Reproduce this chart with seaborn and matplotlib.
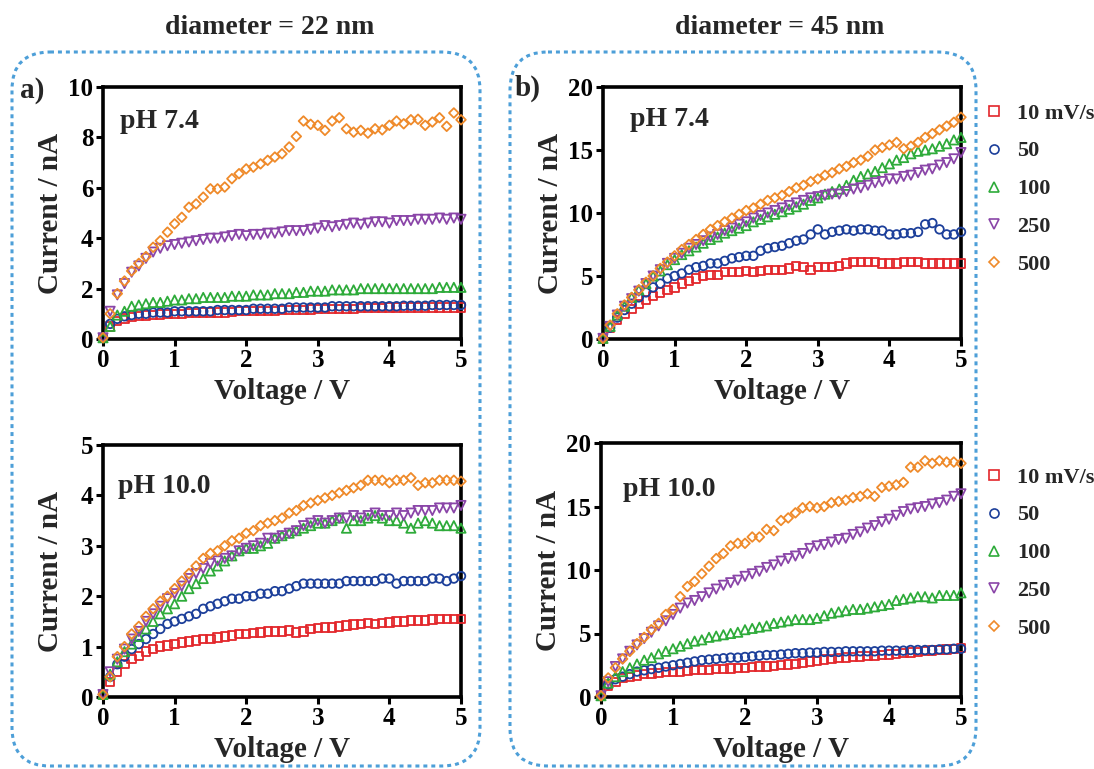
import numpy as np
import pandas as pd
import matplotlib
matplotlib.use("Agg")
import matplotlib.pyplot as plt
import seaborn as sns
from matplotlib.patches import FancyBboxPatch
from matplotlib.lines import Line2D

# ---------------------------------------------------------------- data
voltage = np.linspace(0.0, 5.0, 51)  # V, sweep sampled every 0.1 V

rate_labels = ["10 mV/s", "50", "100", "250", "500"]

# diameter 22 nm, pH 7.4  (current in nA)
d22_ph74_r10 = [0.05, 0.50, 0.72, 0.82, 0.88, 0.90, 0.93, 0.95, 0.97, 1.00,
                1.00, 1.00, 1.02, 1.02, 1.05, 1.05, 1.05, 1.05, 1.08, 1.10,
                1.10, 1.10, 1.10, 1.12, 1.12, 1.15, 1.15, 1.15, 1.15, 1.17,
                1.18, 1.18, 1.20, 1.20, 1.20, 1.20, 1.22, 1.22, 1.22, 1.22,
                1.25, 1.25, 1.25, 1.25, 1.25, 1.25, 1.25, 1.25, 1.25, 1.25,
                1.25]
d22_ph74_r50 = [0.05, 0.60, 0.80, 0.90, 0.95, 1.00, 1.00, 1.05, 1.05, 1.05,
                1.10, 1.10, 1.10, 1.10, 1.10, 1.10, 1.15, 1.15, 1.15, 1.15,
                1.15, 1.20, 1.20, 1.20, 1.20, 1.20, 1.25, 1.25, 1.25, 1.25,
                1.25, 1.25, 1.30, 1.30, 1.30, 1.30, 1.30, 1.30, 1.30, 1.30,
                1.30, 1.30, 1.32, 1.32, 1.32, 1.32, 1.35, 1.35, 1.35, 1.35,
                1.35]
d22_ph74_r100 = [0.05, 0.50, 0.95, 1.10, 1.30, 1.35, 1.40, 1.45, 1.45, 1.50,
                 1.55, 1.55, 1.60, 1.60, 1.65, 1.65, 1.65, 1.65, 1.70, 1.70,
                 1.70, 1.75, 1.75, 1.75, 1.80, 1.80, 1.80, 1.85, 1.85, 1.90,
                 1.90, 1.90, 1.95, 1.95, 1.95, 1.95, 2.00, 2.00, 2.00, 2.00,
                 2.00, 2.00, 2.00, 2.00, 2.00, 2.00, 2.00, 2.05, 2.05, 2.05,
                 2.05]
d22_ph74_r250 = [0.05, 1.10, 1.75, 2.20, 2.65, 2.90, 3.20, 3.45, 3.60, 3.70,
                 3.75, 3.80, 3.85, 3.90, 3.95, 4.00, 4.00, 4.05, 4.10, 4.15,
                 4.10, 4.15, 4.15, 4.20, 4.20, 4.25, 4.30, 4.30, 4.30, 4.35,
                 4.40, 4.50, 4.45, 4.50, 4.55, 4.60, 4.55, 4.60, 4.65, 4.65,
                 4.60, 4.70, 4.70, 4.70, 4.75, 4.75, 4.75, 4.80, 4.75, 4.80,
                 4.75]
d22_ph74_r500 = [0.05, 1.00, 1.80, 2.30, 2.70, 3.00, 3.27, 3.64, 3.90, 4.24,
                 4.57, 4.83, 5.23, 5.36, 5.63, 5.96, 5.96, 6.03, 6.36, 6.56,
                 6.75, 6.82, 6.95, 7.09, 7.22, 7.35, 7.62, 8.04, 8.65, 8.52,
                 8.48, 8.28, 8.65, 8.78, 8.34, 8.21, 8.28, 8.17, 8.34, 8.30,
                 8.48, 8.65, 8.54, 8.70, 8.72, 8.48, 8.61, 8.78, 8.44, 8.97,
                 8.70]

# diameter 45 nm, pH 7.4
d45_ph74_r10 = [0.05, 0.9, 1.5, 2.0, 2.4, 2.8, 3.1, 3.4, 3.7, 3.9,
                4.1, 4.4, 4.6, 4.8, 5.0, 5.1, 5.1, 5.3, 5.3, 5.3,
                5.4, 5.3, 5.4, 5.5, 5.5, 5.5, 5.6, 5.8, 5.7, 5.5,
                5.7, 5.7, 5.7, 5.8, 6.0, 6.1, 6.1, 6.1, 6.1, 6.0,
                6.0, 6.0, 6.1, 6.1, 6.1, 6.0, 6.0, 6.0, 6.0, 6.0,
                6.0]
d45_ph74_r50 = [0.05, 0.9, 1.7, 2.3, 2.8, 3.3, 3.7, 4.1, 4.4, 4.8,
                5.0, 5.2, 5.5, 5.7, 5.8, 6.0, 6.0, 6.2, 6.4, 6.5,
                6.6, 6.6, 7.0, 7.2, 7.3, 7.4, 7.6, 7.8, 7.9, 8.3,
                8.7, 8.3, 8.5, 8.6, 8.7, 8.6, 8.7, 8.7, 8.6, 8.6,
                8.3, 8.3, 8.4, 8.4, 8.5, 9.1, 9.2, 8.7, 8.3, 8.3,
                8.5]
d45_ph74_r100 = [0.05, 1.0, 1.9, 2.6, 3.3, 3.9, 4.4, 5.0, 5.4, 5.9,
                 6.3, 6.7, 7.0, 7.3, 7.6, 7.9, 8.1, 8.4, 8.6, 8.8,
                 9.0, 9.3, 9.5, 9.7, 9.9, 10.1, 10.3, 10.5, 10.7, 11.0,
                 11.2, 11.5, 11.7, 11.9, 12.2, 12.6, 12.9, 13.1, 13.3, 13.6,
                 13.9, 14.2, 14.4, 14.7, 14.9, 15.0, 15.1, 15.3, 15.5, 15.8,
                 16.0]
d45_ph74_r250 = [0.05, 1.0, 1.9, 2.6, 3.2, 3.8, 4.4, 5.0, 5.5, 6.0,
                 6.4, 6.8, 7.2, 7.5, 7.8, 8.1, 8.3, 8.6, 8.8, 9.1,
                 9.3, 9.6, 9.8, 10.0, 10.2, 10.4, 10.6, 10.8, 11.0, 11.2,
                 11.3, 11.4, 11.5, 11.5, 11.7, 11.9, 12.0, 12.2, 12.4, 12.5,
                 12.7, 12.7, 12.9, 13.0, 13.2, 13.4, 13.5, 13.8, 14.0, 14.3,
                 14.8]
d45_ph74_r500 = [0.05, 1.1, 2.0, 2.7, 3.3, 3.9, 4.5, 5.0, 5.6, 6.1,
                 6.6, 7.1, 7.5, 7.9, 8.3, 8.7, 9.0, 9.3, 9.6, 9.9,
                 10.2, 10.4, 10.7, 11.0, 11.2, 11.4, 11.7, 12.0, 12.2, 12.5,
                 12.7, 13.0, 13.2, 13.5, 13.7, 14.0, 14.2, 14.5, 15.0, 15.2,
                 15.4, 15.6, 15.1, 15.3, 15.6, 16.0, 16.3, 16.6, 16.9, 17.2,
                 17.6]

# diameter 22 nm, pH 10.0
d22_ph10_r10 = [0.05, 0.30, 0.50, 0.65, 0.75, 0.82, 0.90, 0.95, 1.00, 1.02,
                1.05, 1.08, 1.10, 1.12, 1.15, 1.15, 1.18, 1.20, 1.22, 1.25,
                1.25, 1.27, 1.28, 1.30, 1.30, 1.30, 1.32, 1.28, 1.30, 1.35,
                1.37, 1.38, 1.38, 1.40, 1.42, 1.44, 1.45, 1.47, 1.45, 1.47,
                1.48, 1.50, 1.50, 1.52, 1.52, 1.52, 1.54, 1.55, 1.55, 1.55,
                1.55]
d22_ph10_r50 = [0.05, 0.40, 0.65, 0.80, 0.95, 1.05, 1.15, 1.25, 1.35, 1.45,
                1.50, 1.55, 1.60, 1.65, 1.75, 1.80, 1.85, 1.90, 1.95, 1.95,
                2.00, 2.00, 2.05, 2.05, 2.10, 2.10, 2.15, 2.20, 2.25, 2.25,
                2.25, 2.25, 2.25, 2.25, 2.30, 2.30, 2.30, 2.30, 2.30, 2.35,
                2.35, 2.25, 2.30, 2.30, 2.30, 2.30, 2.35, 2.35, 2.30, 2.35,
                2.40]
d22_ph10_r100 = [0.05, 0.45, 0.70, 0.90, 1.05, 1.20, 1.35, 1.50, 1.65, 1.75,
                 1.85, 2.00, 2.15, 2.25, 2.35, 2.50, 2.60, 2.70, 2.80, 2.90,
                 2.95, 2.95, 3.00, 3.05, 3.15, 3.20, 3.25, 3.30, 3.35, 3.40,
                 3.45, 3.45, 3.50, 3.55, 3.35, 3.50, 3.50, 3.55, 3.60, 3.55,
                 3.50, 3.50, 3.45, 3.35, 3.45, 3.50, 3.45, 3.40, 3.40, 3.40,
                 3.35]
d22_ph10_r250 = [0.05, 0.50, 0.75, 0.95, 1.15, 1.30, 1.50, 1.65, 1.80, 1.95,
                 2.05, 2.20, 2.35, 2.45, 2.55, 2.65, 2.70, 2.75, 2.80, 2.90,
                 2.95, 3.00, 3.05, 3.15, 3.15, 3.20, 3.25, 3.30, 3.40, 3.45,
                 3.50, 3.45, 3.50, 3.55, 3.55, 3.60, 3.55, 3.60, 3.65, 3.60,
                 3.60, 3.65, 3.60, 3.65, 3.70, 3.70, 3.70, 3.75, 3.75, 3.75,
                 3.80]
d22_ph10_r500 = [0.05, 0.40, 0.80, 1.00, 1.25, 1.40, 1.60, 1.75, 1.90, 2.00,
                 2.15, 2.30, 2.45, 2.60, 2.75, 2.85, 2.90, 3.00, 3.10, 3.15,
                 3.25, 3.30, 3.40, 3.45, 3.50, 3.55, 3.65, 3.70, 3.80, 3.85,
                 3.90, 3.95, 4.00, 4.05, 4.10, 4.15, 4.20, 4.30, 4.30, 4.30,
                 4.25, 4.30, 4.30, 4.35, 4.20, 4.25, 4.25, 4.30, 4.30, 4.30,
                 4.28]

# diameter 45 nm, pH 10.0
d45_ph10_r10 = [0.1, 0.9, 1.2, 1.5, 1.6, 1.7, 1.8, 1.85, 1.9, 1.95,
                1.95, 2.0, 2.05, 2.1, 2.1, 2.15, 2.2, 2.2, 2.25, 2.3,
                2.3, 2.35, 2.4, 2.4, 2.45, 2.5, 2.55, 2.6, 2.7, 2.8,
                2.85, 2.95, 3.0, 3.05, 3.1, 3.15, 3.2, 3.25, 3.25, 3.3,
                3.35, 3.4, 3.45, 3.5, 3.55, 3.6, 3.65, 3.7, 3.75, 3.8,
                3.85]
d45_ph10_r50 = [0.1, 1.0, 1.4, 1.6, 1.8, 2.0, 2.1, 2.2, 2.3, 2.4,
                2.5, 2.6, 2.7, 2.8, 2.9, 2.95, 3.0, 3.05, 3.1, 3.1,
                3.15, 3.2, 3.25, 3.3, 3.3, 3.35, 3.4, 3.45, 3.45, 3.5,
                3.5, 3.55, 3.55, 3.55, 3.6, 3.6, 3.6, 3.6, 3.6, 3.65,
                3.65, 3.65, 3.65, 3.7, 3.7, 3.7, 3.7, 3.75, 3.75, 3.8,
                3.8]
d45_ph10_r100 = [0.1, 1.1, 1.6, 2.0, 2.3, 2.6, 2.9, 3.1, 3.4, 3.6,
                 3.8, 4.0, 4.2, 4.4, 4.5, 4.7, 4.8, 4.9, 5.0, 5.1,
                 5.3, 5.4, 5.5, 5.6, 5.8, 5.9, 6.0, 6.1, 6.1, 6.1,
                 6.2, 6.4, 6.6, 6.7, 6.8, 6.9, 6.9, 7.0, 7.1, 7.2,
                 7.3, 7.6, 7.7, 7.8, 7.9, 7.9, 7.8, 8.0, 8.0, 8.0,
                 8.2]
d45_ph10_r250 = [0.1, 1.2, 2.4, 3.0, 3.6, 4.1, 4.6, 5.1, 5.6, 6.0,
                 6.5, 7.0, 7.4, 7.6, 7.9, 8.2, 8.5, 8.8, 9.0, 9.2,
                 9.5, 9.7, 9.9, 10.2, 10.4, 10.7, 10.9, 11.1, 11.3, 11.7,
                 11.9, 12.0, 12.2, 12.4, 12.5, 12.8, 13.0, 13.3, 13.5, 13.8,
                 14.0, 14.3, 14.6, 14.8, 14.9, 15.0, 15.2, 15.3, 15.5, 15.8,
                 16.0]
d45_ph10_r500 = [0.1, 1.5, 2.3, 3.0, 3.6, 4.2, 4.7, 5.3, 5.8, 6.5,
                 6.9, 7.9, 8.7, 9.1, 9.7, 10.3, 10.9, 11.3, 11.9, 12.1,
                 12.1, 12.6, 12.6, 13.2, 13.1, 13.9, 14.1, 14.5, 14.9, 15.0,
                 14.9, 15.0, 15.3, 15.4, 15.5, 15.7, 15.8, 16.0, 15.8, 16.5,
                 16.6, 16.7, 16.9, 18.1, 18.1, 18.6, 18.4, 18.6, 18.5, 18.5,
                 18.4]

panels = {
    "a74": [d22_ph74_r10, d22_ph74_r50, d22_ph74_r100, d22_ph74_r250, d22_ph74_r500],
    "b74": [d45_ph74_r10, d45_ph74_r50, d45_ph74_r100, d45_ph74_r250, d45_ph74_r500],
    "a10": [d22_ph10_r10, d22_ph10_r50, d22_ph10_r100, d22_ph10_r250, d22_ph10_r500],
    "b10": [d45_ph10_r10, d45_ph10_r50, d45_ph10_r100, d45_ph10_r250, d45_ph10_r500],
}

# ---------------------------------------------------------------- style
colors = ["#e3262b", "#1c3f9a", "#2eab3a", "#8a45a8", "#ef8a2a"]
markers = ["s", "o", "^", "v", "D"]
sizes = [36, 38, 44, 44, 24]

sns.set_theme(style="ticks")
plt.rcParams["font.family"] = ["Liberation Serif", "DejaVu Serif"]
plt.rcParams["font.weight"] = "bold"
plt.rcParams["axes.labelweight"] = "bold"

W, H = 1094, 769
fig = plt.figure(figsize=(W / 100, H / 100), dpi=100)

# pixel-space overlay for the dashed group frames and headings
bg = fig.add_axes([0, 0, 1, 1], zorder=0)
bg.set_xlim(0, W)
bg.set_ylim(H, 0)
bg.axis("off")
frame_kw = dict(boxstyle="round,pad=0,rounding_size=38", fill=False,
                ec="#4d9fd8", lw=2.2, ls=(0, (1.3, 1.3)))
bg.add_patch(FancyBboxPatch((12, 52), 468, 714, **frame_kw))
bg.add_patch(FancyBboxPatch((510, 52), 466, 714, **frame_kw))
bg.text(270, 28, "diameter = 22 nm", ha="center", va="center", fontsize=20, fontweight="bold")
bg.text(780, 28, "diameter = 45 nm", ha="center", va="center", fontsize=20, fontweight="bold")
bg.text(20, 90, "a)", ha="left", va="center", fontsize=21, fontweight="bold")
bg.text(515, 88, "b)", ha="left", va="center", fontsize=21, fontweight="bold")


def px_axes(x0, y0, x1, y1):
    """Axes placed by pixel box (left, top, right, bottom)."""
    return fig.add_axes([x0 / W, 1 - y1 / H, (x1 - x0) / W, (y1 - y0) / H], zorder=1)


layout = {
    "a74": dict(box=(103, 87, 461, 339), ymax=10, ystep=2, tag="pH 7.4", tagpos=(0.047, 0.865)),
    "b74": dict(box=(603, 87, 961, 339), ymax=20, ystep=5, tag="pH 7.4", tagpos=(0.075, 0.873)),
    "a10": dict(box=(103, 445, 461, 697), ymax=5, ystep=1, tag="pH 10.0", tagpos=(0.042, 0.837)),
    "b10": dict(box=(601, 443, 961, 697), ymax=20, ystep=5, tag="pH 10.0", tagpos=(0.061, 0.815)),
}

axes = {}
for key, cfg in layout.items():
    ax = px_axes(*cfg["box"])
    axes[key] = ax
    for vals, lab, col, mk, sz in zip(panels[key], rate_labels, colors, markers, sizes):
        sns.scatterplot(x=voltage, y=vals, ax=ax, marker=mk, s=sz,
                        facecolors="none", edgecolor=col, linewidth=1.3,
                        clip_on=False, zorder=3, legend=False)
    ax.set_xlim(0, 5)
    ax.set_ylim(0, cfg["ymax"])
    ax.set_xticks(range(0, 6))
    ax.set_yticks(np.arange(0, cfg["ymax"] + 0.01, cfg["ystep"]))
    ax.set_yticklabels([f"{int(t)}" for t in ax.get_yticks()])
    for sp in ax.spines.values():
        sp.set_linewidth(2.6)
        sp.set_color("black")
        sp.set_zorder(2)
    ax.tick_params(axis="both", direction="out", length=5, width=2.2,
                   labelsize=18, pad=2, colors="black")
    for lbl in ax.get_xticklabels() + ax.get_yticklabels():
        lbl.set_fontweight("bold")
    ax.set_xlabel("Voltage / V", fontsize=21, fontweight="bold")
    ax.set_ylabel("Current / nA", fontsize=21, fontweight="bold")
    ax.xaxis.set_label_coords(0.5, -0.155)
    ax.yaxis.set_label_coords(-0.108, 0.5)
    ax.text(*cfg["tagpos"], cfg["tag"], transform=ax.transAxes, ha="left",
            va="center", fontsize=20, fontweight="bold")

# legends beside the 45 nm panels
handles = [Line2D([], [], ls="none", marker=mk, mfc="none", mec=col, mew=1.2,
                  ms=(6.5 if mk != "D" else 5.0))
           for col, mk in zip(colors, markers)]
for key, first_row_px in (("b74", 111), ("b10", 475)):
    ax = axes[key]
    x0, y0, x1, y1 = layout[key]["box"]
    anchor_y = (y1 - (first_row_px - 8)) / (y1 - y0)
    ax.legend(handles, rate_labels, loc="upper left",
              bbox_to_anchor=((984 - x0) / (x1 - x0), anchor_y),
              frameon=False, handlelength=0.9, handletextpad=0.6,
              labelspacing=0.78, borderpad=0, borderaxespad=0,
              prop={"weight": "bold", "size": 16})

fig.savefig("out.png", dpi=100, facecolor="white")
